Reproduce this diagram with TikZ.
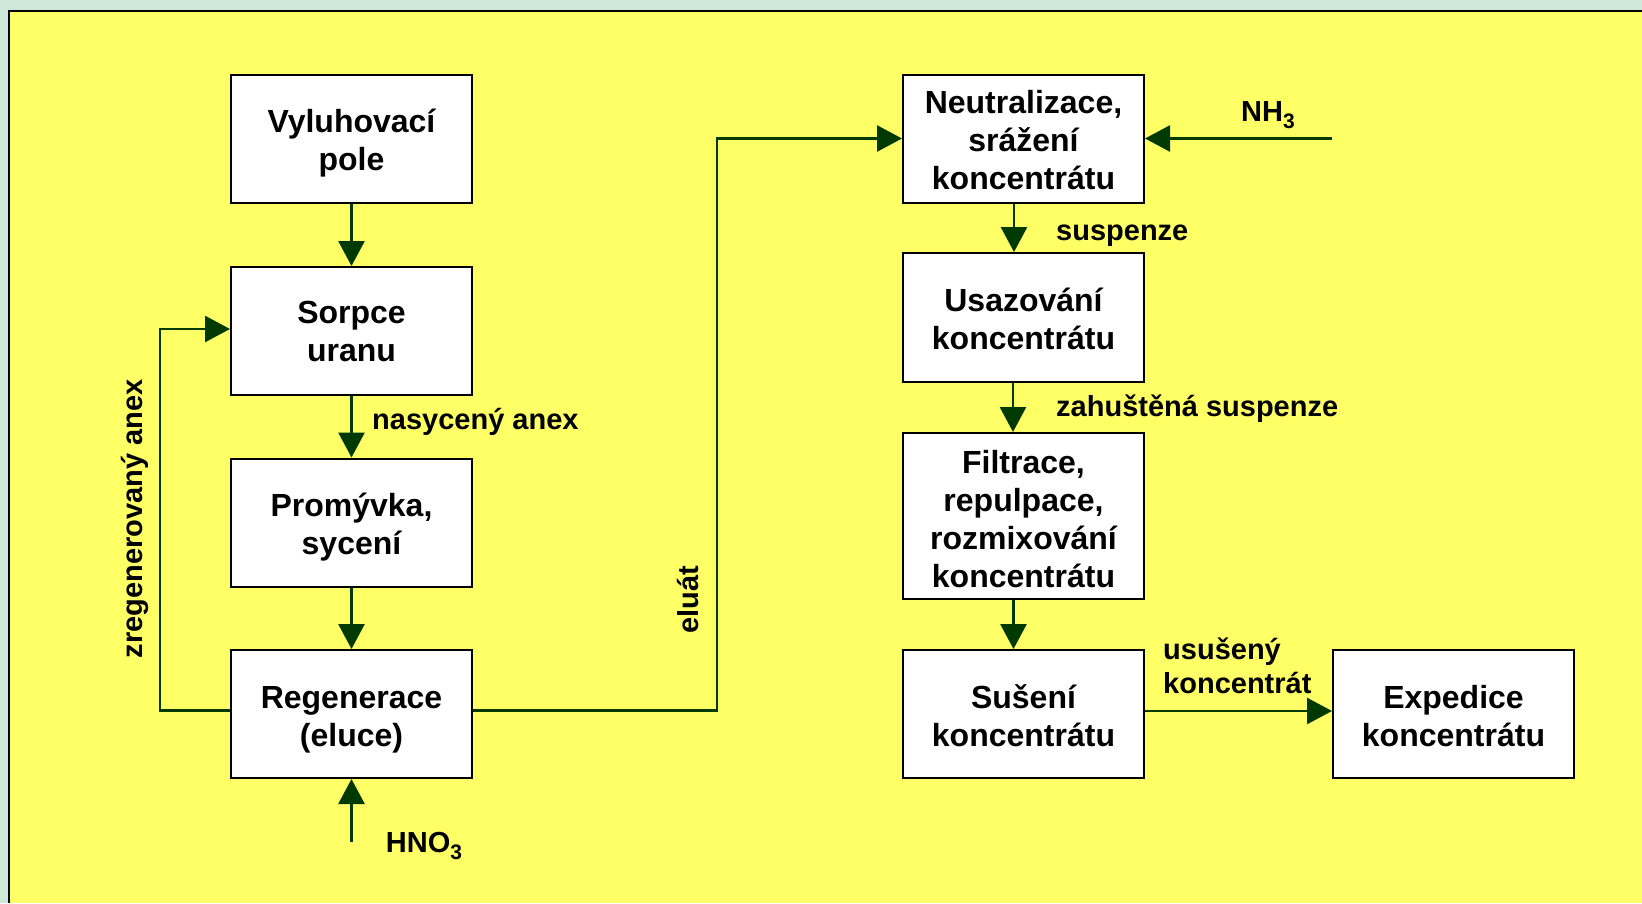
\documentclass[tikz,border=0pt]{standalone}
\usepackage{fontspec}
\setmainfont{Liberation Sans}
\usetikzlibrary{arrows.meta}
\definecolor{bggreen}{RGB}{205,232,216}
\definecolor{bgyellow}{RGB}{255,255,102}
\definecolor{flowgreen}{RGB}{0,58,0}
\newcommand{\bxtext}[2]{\raisebox{-#1pt}[\height][\depth]{\begin{tabular}{@{}c@{}}#2\end{tabular}}}
\newcommand{\subthree}{\raisebox{-7pt}{\fontsize{21}{21}\selectfont 3}}
\tikzset{
  procbox/.style={draw=black, fill=white, line width=2pt, minimum width=241pt, inner sep=0pt,
    font=\fontsize{32}{38}\selectfont\bfseries},
  flow/.style={draw=flowgreen, line width=2.7pt, -{Triangle[length=25pt,width=26pt]}},
  lbl/.style={inner sep=0pt, font=\fontsize{29}{34}\selectfont\bfseries, align=left}
}
\begin{document}
\begin{tikzpicture}[x=1pt,y=-1pt]
\useasboundingbox (0,0) rectangle (1642,903);
\fill[bggreen] (0,0) rectangle (1642,903);
\fill[bgyellow] (9,11) rectangle (1642,903);
\draw[black, line width=2.5pt] (9,903) -- (9,11) -- (1642,11);
% left column
\node[procbox, minimum height=128pt] (vyl) at (351.5,138.5) {\bxtext{5}{Vyluhovací\\pole}};
\node[procbox, minimum height=128pt] (sorp) at (351.5,331) {\bxtext{4}{Sorpce\\uranu}};
\node[procbox, minimum height=128pt] (prom) at (351.5,522.5) {\bxtext{5}{Promývka,\\sycení}};
\node[procbox, minimum height=128pt] (reg) at (351.5,714) {\bxtext{6}{Regenerace\\(eluce)}};
% right column
\node[procbox, minimum height=128pt] (neut) at (1023.5,138.5) {\bxtext{5}{Neutralizace,\\srážení\\koncentrátu}};
\node[procbox, minimum height=129pt] (usaz) at (1023.5,317.5) {\bxtext{5}{Usazování\\koncentrátu}};
\node[procbox, minimum height=166pt] (filt) at (1023.5,516) {\bxtext{7}{Filtrace,\\repulpace,\\rozmixování\\koncentrátu}};
\node[procbox, minimum height=128pt] (sus) at (1023.5,714) {\bxtext{6}{Sušení\\koncentrátu}};
\node[procbox, minimum height=128pt] (exp) at (1453.5,714) {\bxtext{6}{Expedice\\koncentrátu}};
% free ends
\coordinate (hn) at (351.5,842);
\coordinate (nh) at (1332,138.5);
\coordinate (rl) at (160,710.5);
\coordinate (er) at (717,710.5);
% connectors left
\draw[flow] (vyl) -- (sorp);
\draw[flow] (sorp) -- (prom);
\draw[flow] (prom) -- (reg);
\draw[flow] (hn) -- (reg.south);
\draw[flow] ([yshift=3.5pt]reg.west) -- (rl) |- ([yshift=2pt]sorp.west);
\draw[flow] ([yshift=3.5pt]reg.east) -- (er) |- (neut.west);
% connectors right
\draw[flow] (nh) -- (neut.east);
\draw[flow] ([xshift=-9.5pt]neut.south) -- ([xshift=-9.5pt]usaz.north);
\draw[flow] ([xshift=-10.5pt]usaz.south) -- ([xshift=-10.5pt]filt.north);
\draw[flow] ([xshift=-10pt]filt.south) -- ([xshift=-10pt]sus.north);
\draw[flow] ([yshift=3pt]sus.east) -- ([yshift=3pt]exp.west);
% labels
\node[lbl, anchor=west] (l1) at (372,422) {nasycený anex};
\node[lbl, rotate=90] (l2) at (135,519) {zregenerovaný anex};
\node[lbl, rotate=90] (l3) at (688,600) {eluát};
\node[lbl, anchor=west] (l4) at (1056,236) {suspenze};
\node[lbl, anchor=west] (l5) at (1056,409) {zahuštěná suspenze};
\node[lbl, anchor=west] (l6) at (1163,666) {usušený\\koncentrát};
\node[lbl] (l7) at (1268,115) {NH\subthree};
\node[lbl] (l8) at (424,846) {HNO\subthree};
\end{tikzpicture}
\end{document}
